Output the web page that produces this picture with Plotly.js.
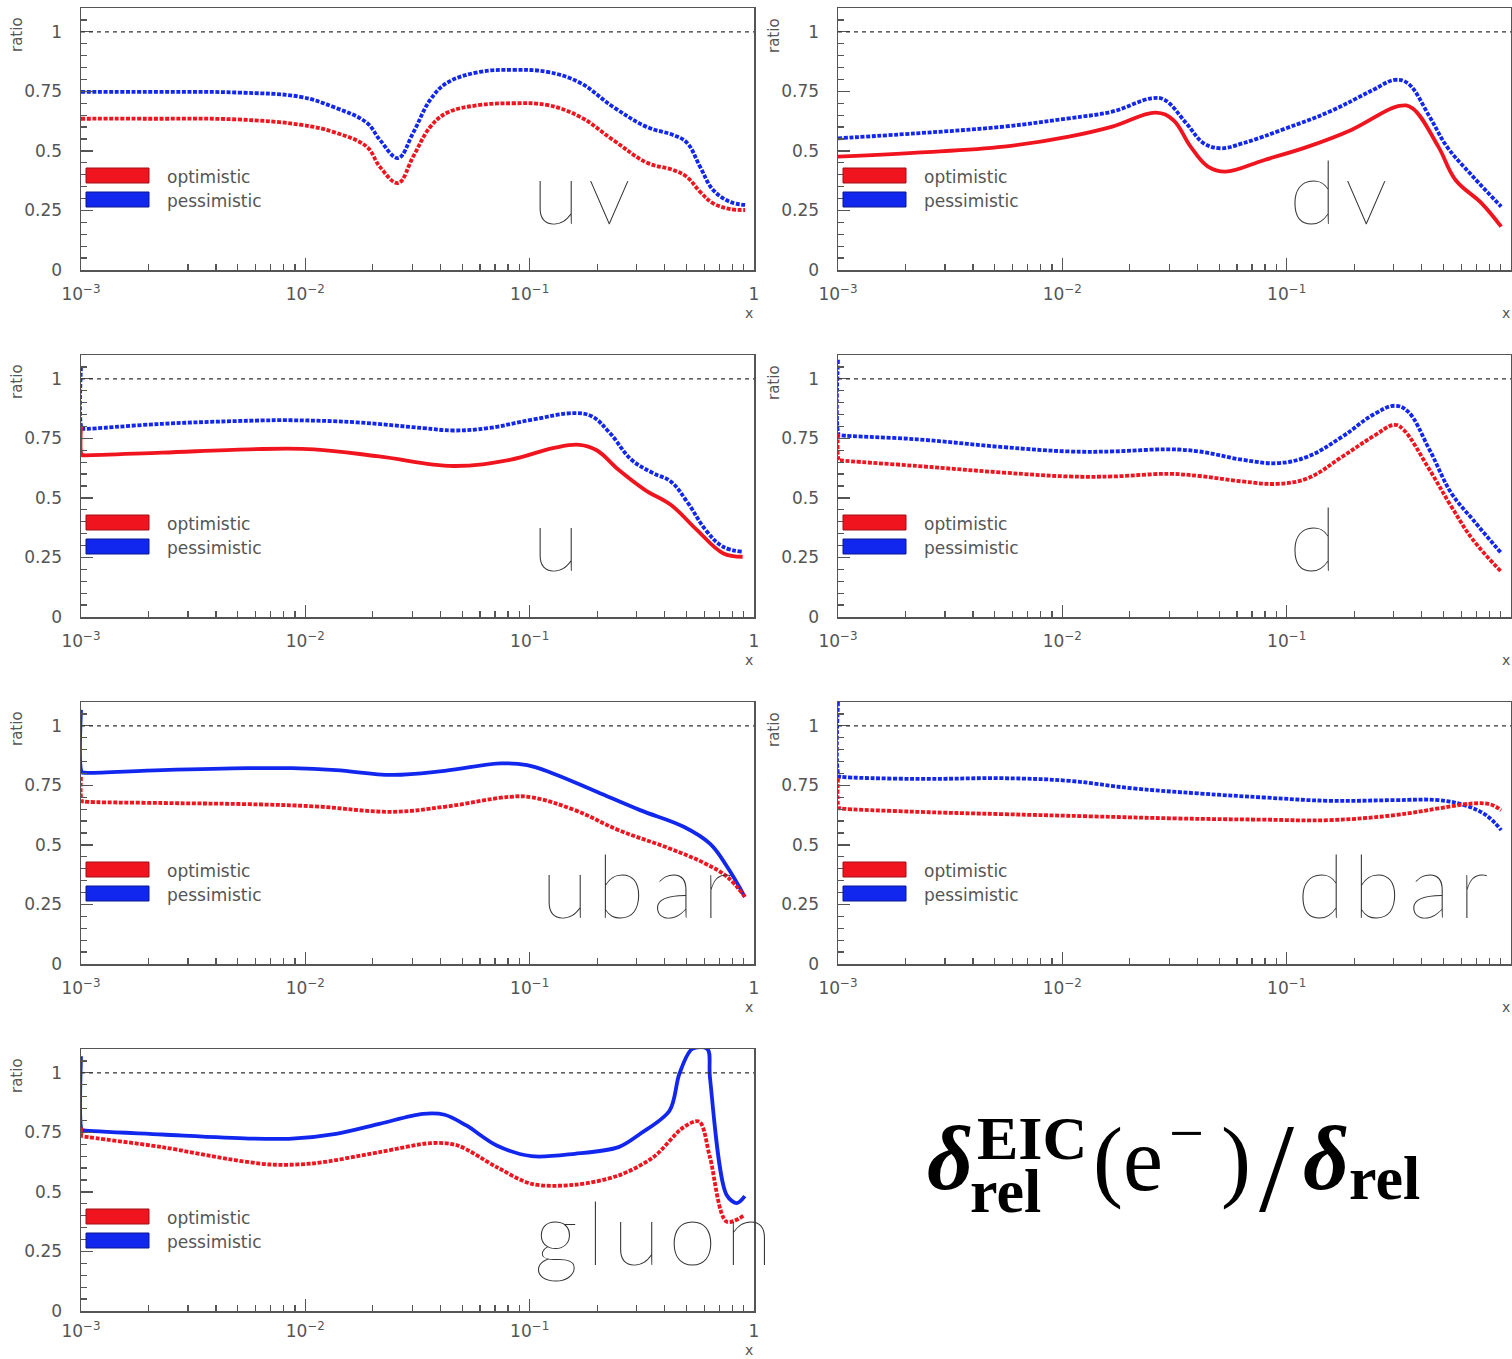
<!DOCTYPE html>
<html><head><meta charset="utf-8">
<script src="https://cdn.plot.ly/plotly-3.0.1.min.js"></script>
<style>
body{margin:0;background:#fff}
#chart{width:1512px;height:1359px}
.annotation[data-index="0"] .annotation-text,
.annotation[data-index="1"] .annotation-text,
.annotation[data-index="2"] .annotation-text,
.annotation[data-index="3"] .annotation-text,
.annotation[data-index="4"] .annotation-text,
.annotation[data-index="5"] .annotation-text,
.annotation[data-index="6"] .annotation-text{letter-spacing:8px}
</style>
</head><body><div id="chart"></div>
<script>
// ---------------- data ----------------
const panelNames = ['uv','dv','u','d','ubar','dbar','gluon'];
const seriesNames = ['optimistic','pessimistic'];
const xTickVals = [0.001, 0.01, 0.1, 1];
const xTickText = ['10<sup>\u22123</sup>','10<sup>\u22122</sup>','10<sup>\u22121</sup>','1'];
const yTickVals = [0, 0.25, 0.5, 0.75, 1];
const yTickText = ['0','0.25','0.5','0.75','1'];

const uvX    = [0.001,0.002,0.005,0.0095,0.0133,0.0188,0.0215,0.0259,0.0302,0.036,0.0428,0.0601,0.0843,0.1196,0.1678,0.2354,0.3338,0.4358,0.5031,0.5752,0.6573,0.7826,0.9128];
const uvOpt  = [0.635,0.635,0.632,0.61,0.58,0.517,0.433,0.365,0.475,0.60,0.66,0.693,0.70,0.693,0.643,0.546,0.45,0.42,0.39,0.328,0.28,0.256,0.252];
const uvPess = [0.748,0.748,0.745,0.727,0.685,0.618,0.546,0.47,0.575,0.714,0.786,0.832,0.84,0.832,0.786,0.685,0.60,0.567,0.534,0.433,0.336,0.286,0.273];

const dvOptX  = [0.001,0.00225,0.00549,0.0107,0.0167,0.0261,0.0312,0.0373,0.0446,0.0533,0.0796,0.1245,0.1941,0.3175,0.3625,0.4742,0.566,0.74,0.904];
const dvOpt   = [0.476,0.493,0.518,0.56,0.602,0.661,0.63,0.518,0.434,0.413,0.462,0.518,0.588,0.689,0.68,0.518,0.378,0.28,0.182];
const dvPessX = [0.001,0.00225,0.00549,0.0107,0.0167,0.025,0.0286,0.0357,0.0427,0.051,0.0637,0.0995,0.1555,0.2427,0.3034,0.3469,0.4335,0.518,0.677,0.904];
const dvPess  = [0.553,0.574,0.602,0.637,0.665,0.721,0.714,0.616,0.532,0.511,0.532,0.595,0.665,0.756,0.798,0.784,0.644,0.518,0.392,0.266];

const uOptX  = [0.001,0.00101,0.00103,0.0023,0.00561,0.01093,0.02132,0.0455,0.0816,0.1271,0.1666,0.199,0.249,0.326,0.4256,0.556,0.727,0.89];
const uOpt   = [0.80,0.680,0.679,0.690,0.704,0.704,0.674,0.634,0.66,0.709,0.723,0.70,0.618,0.534,0.471,0.366,0.268,0.253];
const uPessX = [0.001,0.00101,0.00103,0.0023,0.00561,0.00873,0.0171,0.0335,0.0455,0.0653,0.1019,0.159,0.1897,0.228,0.2844,0.3549,0.4256,0.508,0.608,0.728,0.89];
const uPess  = [1.05,0.791,0.790,0.811,0.824,0.826,0.817,0.793,0.783,0.793,0.828,0.856,0.842,0.772,0.66,0.604,0.569,0.478,0.366,0.295,0.274];

const dOptX  = [0.001,0.00101,0.00103,0.00225,0.00549,0.0107,0.0167,0.0298,0.0408,0.0637,0.091,0.1245,0.1775,0.2427,0.3034,0.332,0.4335,0.542,0.677,0.905];
const dOpt   = [0.77,0.658,0.657,0.634,0.606,0.59,0.59,0.601,0.592,0.569,0.559,0.583,0.674,0.758,0.807,0.786,0.618,0.464,0.324,0.19];
const dPessX = [0.001,0.00101,0.00103,0.00225,0.00549,0.0107,0.0167,0.0298,0.0408,0.0637,0.091,0.1245,0.1775,0.2427,0.3034,0.3469,0.4335,0.542,0.677,0.905];
const dPess  = [1.08,0.765,0.763,0.746,0.713,0.695,0.695,0.704,0.695,0.66,0.646,0.674,0.758,0.849,0.887,0.863,0.702,0.52,0.408,0.268];

const ubarOptX  = [0.001,0.00101,0.00103,0.0023,0.00561,0.01093,0.0244,0.0418,0.0816,0.1019,0.159,0.249,0.4207,0.608,0.759,0.91];
const ubarOpt   = [0.786,0.684,0.682,0.676,0.671,0.662,0.639,0.66,0.702,0.70,0.646,0.562,0.485,0.421,0.366,0.282];
const ubarPessX = [0.001,0.00101,0.00103,0.0023,0.00561,0.00873,0.0137,0.0244,0.0418,0.0745,0.0974,0.127,0.199,0.3105,0.486,0.636,0.759,0.91];
const ubarPess  = [1.067,0.805,0.803,0.814,0.822,0.822,0.814,0.794,0.811,0.842,0.835,0.80,0.723,0.646,0.576,0.505,0.408,0.282];

const dbarOptX  = [0.001,0.00101,0.00103,0.00225,0.00549,0.01338,0.0326,0.0796,0.1555,0.3034,0.4742,0.677,0.809,0.904];
const dbarOpt   = [0.78,0.655,0.653,0.639,0.629,0.62,0.611,0.606,0.604,0.625,0.653,0.674,0.67,0.646];
const dbarPessX = [0.001,0.00101,0.00103,0.00225,0.00549,0.0107,0.0208,0.0408,0.0796,0.1555,0.3034,0.4742,0.619,0.774,0.904];
const dbarPess  = [1.1,0.788,0.786,0.777,0.78,0.769,0.737,0.716,0.699,0.685,0.688,0.688,0.667,0.625,0.562];

const gluonOptX  = [0.001,0.00101,0.00103,0.0023,0.00448,0.007,0.01093,0.0214,0.0365,0.0477,0.0713,0.1019,0.159,0.249,0.356,0.486,0.57,0.636,0.755,0.91];
const gluonOpt   = [0.77,0.735,0.733,0.688,0.639,0.615,0.62,0.667,0.705,0.695,0.604,0.534,0.53,0.569,0.646,0.772,0.795,0.646,0.375,0.403];
const gluonPessX = [0.001,0.00101,0.00103,0.0023,0.00561,0.00873,0.0137,0.0214,0.0334,0.0418,0.0522,0.0713,0.1019,0.159,0.249,0.311,0.4207,0.465,0.53,0.62,0.636,0.755,0.84,0.91];
const gluonPess  = [1.07,0.760,0.758,0.741,0.724,0.724,0.744,0.786,0.828,0.824,0.779,0.695,0.65,0.66,0.688,0.744,0.842,0.996,1.1,1.1,0.982,0.487,0.453,0.482];

// ---------------- layout helpers ----------------
const W = 1512, H = 1359;
const RED = '#f0141e', BLUE = '#1227ee';
const colsPx = [[81,754],[838,1511]];
const rowsPx = [[8,270],[355,617],[702,964],[1049,1311]];
const px = v => v / W;
const py = v => 1 - v / H;

const panels = [
  {optX:uvX,     opt:uvOpt,     pessX:uvX,        pess:uvPess,     row:0,col:0, optDot:true,  pessDot:true,  labelCx:585, sm:1.1},
  {optX:dvOptX,  opt:dvOpt,     pessX:dvPessX,    pess:dvPess,     row:0,col:1, optDot:false, pessDot:true,  labelCx:1342, sm:1.1},
  {optX:uOptX,   opt:uOpt,      pessX:uPessX,     pess:uPess,      row:1,col:0, optDot:false, pessDot:true,  labelCx:560, sm:1.1},
  {optX:dOptX,   opt:dOpt,      pessX:dPessX,     pess:dPess,      row:1,col:1, optDot:true,  pessDot:true,  labelCx:1317, sm:1.1},
  {optX:ubarOptX,opt:ubarOpt,   pessX:ubarPessX,  pess:ubarPess,   row:2,col:0, optDot:true,  pessDot:false, labelCx:640, sm:1.1},
  {optX:dbarOptX,opt:dbarOpt,   pessX:dbarPessX,  pess:dbarPess,   row:2,col:1, optDot:true,  pessDot:true,  labelCx:1397, sm:1.1},
  {optX:gluonOptX,opt:gluonOpt, pessX:gluonPessX, pess:gluonPess,  row:3,col:0, optDot:true,  pessDot:false, labelCx:657, sm:0.9}
];

const minorX = [];
[0.001,0.01,0.1].forEach(d => { for (let k=2;k<=9;k++) minorX.push(+(k*d).toPrecision(3)); });
const minorY = [];
for (let k=1;k<=21;k++){ if (k%5!==0) minorY.push(+(k*0.05).toFixed(2)); }

const tickFont = {family:'DejaVu Sans, sans-serif', size:17, color:'#555'};
const traces = [];
const layout = {
  width:W, height:H, margin:{l:0,r:0,t:0,b:0},
  paper_bgcolor:'#fff', plot_bgcolor:'#fff', showlegend:false,
  shapes:[], annotations:[]
};
const otherAnn = [];

panels.forEach((p,i) => {
  const n = i===0 ? '' : String(i+1);
  const xa = 'x'+n, ya = 'y'+n;
  const [cl,cr] = colsPx[p.col], [rt,rb] = rowsPx[p.row];
  const lastRow = p.row === 3;
  layout['xaxis'+n] = {
    type:'log', range:[-3,0], domain:[px(cl),px(cr)], anchor:ya,
    showline:true, mirror:true, linecolor:'#555', linewidth:1.5,
    ticks:'inside', ticklen:12, tickwidth:1.2, tickcolor:'#555',
    tickmode:'array', tickvals:xTickVals, ticktext:xTickText, tickfont:tickFont,
    ticklabelstandoff: lastRow ? 4 : 8,
    showgrid:false, zeroline:false, fixedrange:true,
    minor:{tickmode:'array', tickvals:minorX, ticks:'inside', ticklen:6, tickwidth:1.2, tickcolor:'#555', showgrid:false}
  };
  layout['yaxis'+n] = {
    range:[0,1.1], domain:[py(rb),py(rt)], anchor:xa,
    showline:true, mirror:true, linecolor:'#555', linewidth:1.5,
    ticks:'inside', ticklen:12, tickwidth:1.2, tickcolor:'#555',
    tickmode:'array', tickvals:yTickVals, ticktext:yTickText, tickfont:tickFont,
    ticklabelstandoff:14,
    showgrid:false, zeroline:false, fixedrange:true,
    minor:{tickmode:'array', tickvals:minorY, ticks:'inside', ticklen:6, tickwidth:1.2, tickcolor:'#555', showgrid:false}
  };
  const dotted = '4px,1.6px';
  traces.push({x:p.pessX, y:p.pess, xaxis:xa, yaxis:ya, type:'scatter', mode:'lines', name:seriesNames[1],
    line:{color:BLUE, width:3.8, shape:'spline', smoothing:p.sm, dash:p.pessDot?dotted:'solid'}});
  traces.push({x:p.optX, y:p.opt, xaxis:xa, yaxis:ya, type:'scatter', mode:'lines', name:seriesNames[0],
    line:{color:RED, width:3.8, shape:'spline', smoothing:p.sm, dash:p.optDot?dotted:'solid'}});

  const xd = xa+' domain', yd = ya+' domain';
  const pw = cr-cl, ph = rb-rt;
  layout.shapes.push({type:'line', xref:xd, yref:ya, x0:0, x1:1, y0:1, y1:1,
    line:{color:'#333', width:1.2, dash:'4px,4px'}});
  layout.shapes.push({type:'rect', xref:xd, yref:yd, x0:5/pw, x1:68/pw, y0:1-175/ph, y1:1-160/ph,
    fillcolor:RED, line:{color:'#a01018', width:1}});
  layout.shapes.push({type:'rect', xref:xd, yref:yd, x0:5/pw, x1:68/pw, y0:1-199/ph, y1:1-184/ph,
    fillcolor:BLUE, line:{color:'#0a1890', width:1}});
  layout.annotations.push({text:panelNames[i], xref:'paper', yref:'paper',
    x:px(p.labelCx), y:py(rb-46), xanchor:'center', yanchor:'bottom', yshift:-20, showarrow:false,
    borderpad:0, font:{family:'Lato, DejaVu Sans, sans-serif', size:88, weight:200, color:'#333'}});
  otherAnn.push({text:seriesNames[0], xref:xd, yref:yd, x:84/pw, y:1-169/ph, xanchor:'left', yanchor:'middle',
    showarrow:false, font:{family:'DejaVu Sans, sans-serif', size:17, color:'#555'}});
  otherAnn.push({text:seriesNames[1], xref:xd, yref:yd, x:84/pw, y:1-193/ph, xanchor:'left', yanchor:'middle',
    showarrow:false, font:{family:'DejaVu Sans, sans-serif', size:17, color:'#555'}});
  otherAnn.push({text:'ratio', xref:'paper', yref:'paper', x:px(cl-64), y:py(rt+27), textangle:-90,
    xanchor:'center', yanchor:'middle', showarrow:false, font:{family:'DejaVu Sans, sans-serif', size:15, color:'#555'}});
  otherAnn.push(lastRow
    ? {text:'x', xref:'paper', yref:'paper', x:px(cr-5), y:0, borderpad:0,
       xanchor:'center', yanchor:'bottom', showarrow:false, font:{family:'DejaVu Sans, sans-serif', size:14, color:'#555'}}
    : {text:'x', xref:'paper', yref:'paper', x:px(cr-5), y:py(rb+43), borderpad:0,
       xanchor:'center', yanchor:'middle', showarrow:false, font:{family:'DejaVu Sans, sans-serif', size:14, color:'#555'}});
});

// formula  δ_rel^EIC (e^-) / δ_rel
const serif = 'Liberation Serif, Times New Roman, serif';
const fAnn = (text, left, bottom, size) => ({text, xref:'paper', yref:'paper', x:px(left), y:py(bottom),
  xanchor:'left', yanchor:'bottom', showarrow:false, borderpad:0, font:{family:serif, size, color:'#000'}});
otherAnn.push(fAnn('<b><i>\u03b4</i></b>', 926, 1190+19, 90));
otherAnn.push(fAnn('<b>EIC</b>', 976, 1160+13, 62));
otherAnn.push(fAnn('<b>rel</b>', 969, 1213+13, 62));
otherAnn.push(fAnn('(e', 1092, 1192+19, 90));
otherAnn.push(fAnn('\u2212', 1168, 1155+13, 62));
otherAnn.push(fAnn(')', 1220, 1192+19, 90));
otherAnn.push(fAnn('/', 1258, 1212+27, 126));
otherAnn.push(fAnn('<b><i>\u03b4</i></b>', 1302, 1190+19, 90));
otherAnn.push(fAnn('<b>rel</b>', 1348, 1200+13, 62));

layout.annotations = layout.annotations.concat(otherAnn);

Plotly.newPlot('chart', traces, layout, {staticPlot:true, displayModeBar:false});
</script>
</body></html>
